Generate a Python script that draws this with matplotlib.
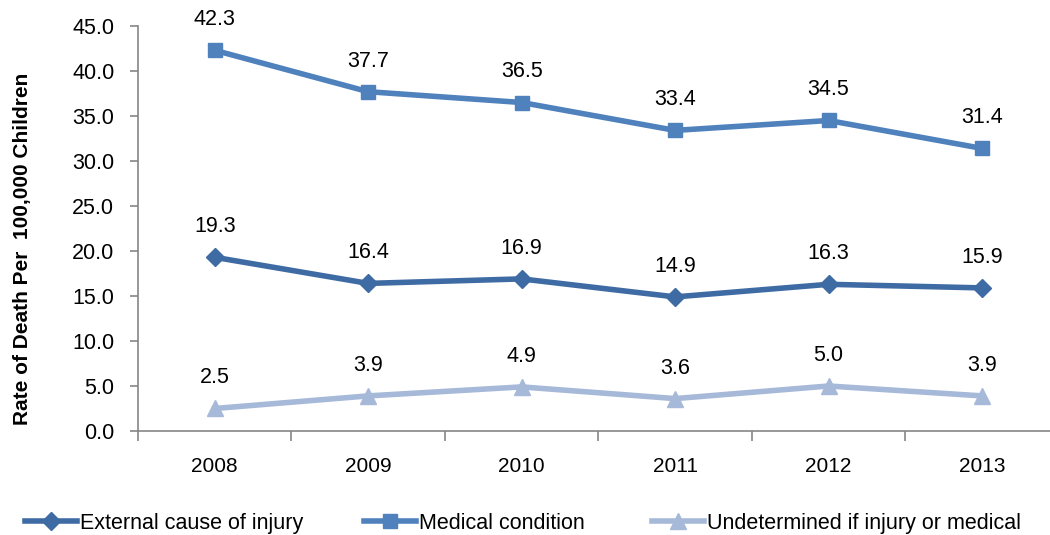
import matplotlib.pyplot as plt

years = ['2008', '2009', '2010', '2011', '2012', '2013']
external = [19.3, 16.4, 16.9, 14.9, 16.3, 15.9]
medical = [42.3, 37.7, 36.5, 33.4, 34.5, 31.4]
undetermined = [2.5, 3.9, 4.9, 3.6, 5.0, 3.9]

plt.rcParams['font.family'] = ['Liberation Sans', 'DejaVu Sans']

fig = plt.figure(figsize=(10.5, 5.35), dpi=100)
ax = fig.add_axes([0.1314, 0.1944, 0.877, 0.757])

series = [
    ('External cause of injury', external, '#3E6BA3', 'D', 9),
    ('Medical condition', medical, '#4F81BD', 's', 10),
    ('Undetermined if injury or medical', undetermined, '#A6B9D8', '^', 11),
]

x = list(range(len(years)))
for name, vals, col, mk, ms in series:
    ax.plot(x, vals, color=col, lw=4, marker=mk, markersize=ms, label=name)
    for xi, v in zip(x, vals):
        ax.annotate('%.1f' % v, (xi, v), xytext=(0, 22), textcoords='offset points',
                    ha='center', va='center', fontsize=15.5)

ax.set_xlim(-0.5, 5.5)
ax.set_ylim(0, 45)
ax.set_yticks([i * 5 for i in range(10)])
ax.set_yticklabels(['%.1f' % (i * 5) for i in range(10)], fontsize=15.5)
ax.set_xticks(x)
ax.set_xticklabels(years, fontsize=15)
ax.set_xticks([i - 0.5 for i in range(7)], minor=True)
ax.tick_params(axis='x', which='major', length=0, pad=19)
ax.tick_params(axis='x', which='minor', length=7, color='#868686', width=1.2)
ax.tick_params(axis='y', length=6, color='#868686', width=1.2, pad=11)

for s in ['top', 'right']:
    ax.spines[s].set_visible(False)
for s in ['left', 'bottom']:
    ax.spines[s].set_color('#868686')
    ax.spines[s].set_linewidth(1.2)

ax.set_ylabel('Rate of Death Per  100,000 Children', fontsize=15, fontweight='bold')
ax.yaxis.set_label_coords(-0.115, 0.449)

# one legend per entry so each sits where the reference puts it
handles, labels = ax.get_legend_handles_labels()
for h, l, lx in zip(handles, labels, [0.0238, 0.3467, 0.621]):
    leg = fig.legend([h], [l], loc='center left', bbox_to_anchor=(lx, 0.0224),
                     frameon=False, prop={'size': 15.5}, handlelength=2.4,
                     handletextpad=0.15, borderpad=0, borderaxespad=0)

fig.savefig('out.png', dpi=100)
